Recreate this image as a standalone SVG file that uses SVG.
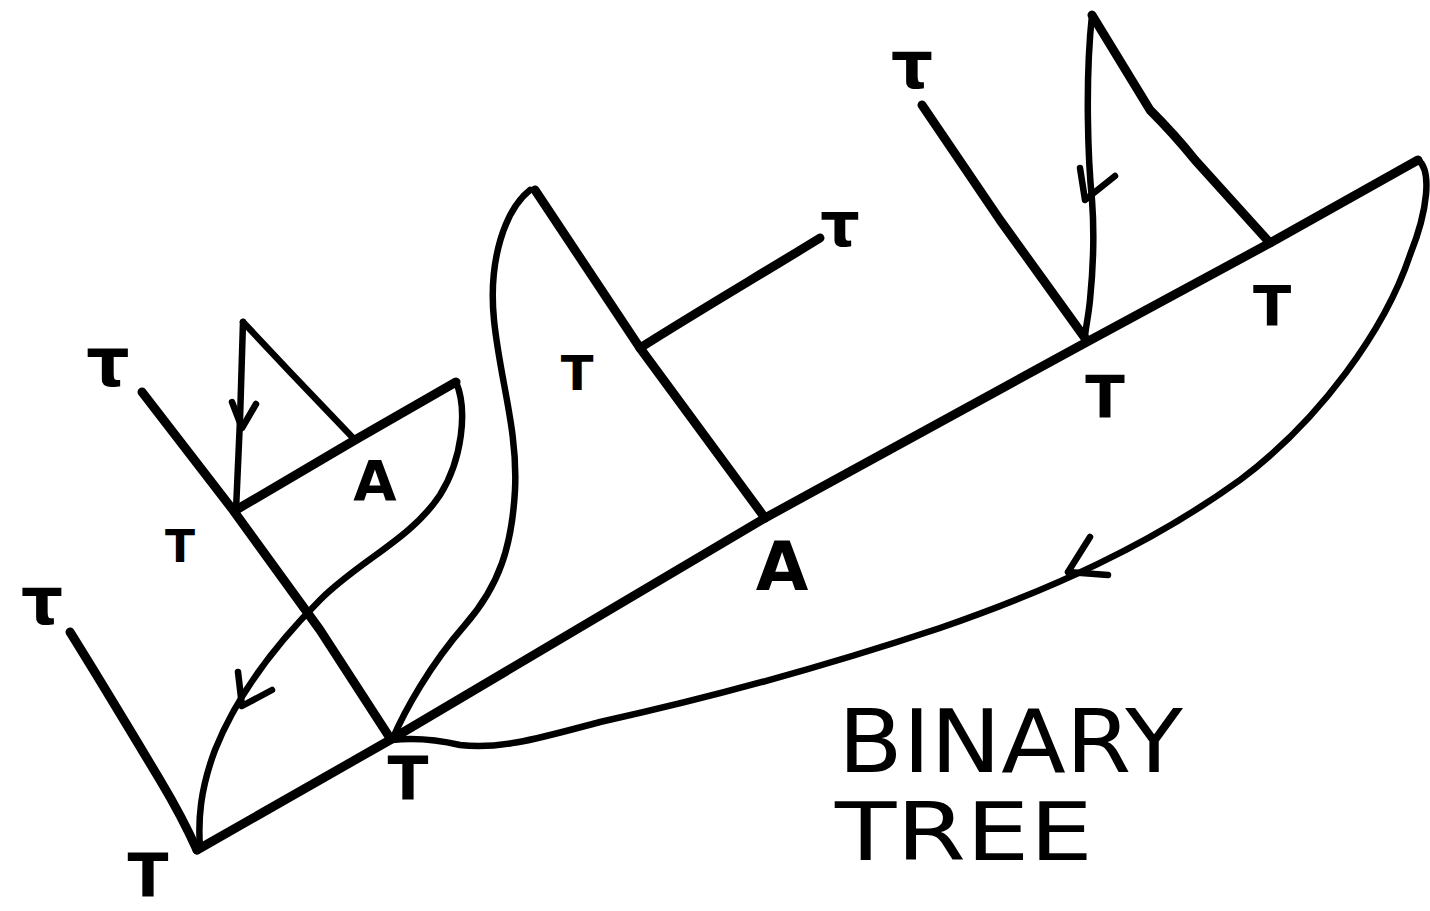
<svg xmlns="http://www.w3.org/2000/svg" width="1430" height="911" viewBox="0 0 1430 911">
<style>
.ln{fill:none;stroke:#000;stroke-width:9;stroke-linecap:round;stroke-linejoin:round}
.th{fill:none;stroke:#000;stroke-width:6.5;stroke-linecap:round;stroke-linejoin:round}
.lb{font-family:"DejaVu Sans",sans-serif;font-weight:bold;fill:#000}
.big{font-family:"DejaVu Sans",sans-serif;fill:#000;font-weight:normal}
</style>
<rect width="1430" height="911" fill="#fff"/>
<g id="connectors">
<path class="ln" d="M197,850 L390,740 L765,518 L1085,343 L1270,243 L1418,160"/>
<path class="th" d="M1418,160 C1432,170 1428,210 1410,255 C1385,330 1320,420 1240,480 C1150,545 1050,590 940,628 C820,668 700,700 600,722 C540,738 500,750 460,745 C430,738 410,738 392,740"/>
<path class="th" d="M1068,572 L1090,537 M1068,572 L1108,575"/>
<path class="ln" d="M142,392 L233,510 L320,630 L390,738"/>
<path class="th" d="M243,322 L240,420 L236,510"/>
<path class="th" d="M243,322 L290,372 L355,440"/>
<path class="th" d="M232,402 L242,428 L256,404"/>
<path class="ln" d="M236,510 L355,440 L456,382"/>
<path class="th" d="M456,382 C468,410 462,460 440,495 C410,540 360,560 320,600 C270,650 235,700 215,750 C200,790 198,820 200,848"/>
<path class="th" d="M238,672 L242,706 L272,690"/>
<path class="ln" d="M70,632 C100,680 130,730 160,780 C175,805 188,830 197,850"/>
<path class="th" d="M392,740 C405,710 430,665 465,625 C500,585 512,545 515,490 C518,430 500,380 494,320 C488,260 505,210 530,190"/>
<path class="ln" d="M535,190 L640,348 L765,518"/>
<path class="ln" d="M640,348 C700,310 760,275 820,238"/>
<path class="ln" d="M922,105 L1000,220 L1085,338"/>
<path class="th" d="M1092,15 C1085,80 1088,160 1092,200 C1095,240 1093,270 1090,300 C1088,320 1085,330 1085,338"/>
<path class="th" d="M1080,168 L1085,200 L1115,176"/>
<path class="ln" d="M1092,15 L1150,110 Q1175,135 1195,160 L1270,243"/>
</g>
<g id="labels">
<text class="lb" x="148" y="897" font-size="60" text-anchor="middle">T</text>
<text class="lb" x="408" y="800" font-size="60" text-anchor="middle">T</text>
<text class="lb" x="180" y="562" font-size="44" text-anchor="middle">T</text>
<text class="lb" x="577" y="390" font-size="48" text-anchor="middle">T</text>
<text class="lb" x="1105" y="418" font-size="58" text-anchor="middle">T</text>
<text class="lb" x="1272" y="325" font-size="56" text-anchor="middle">T</text>
<text class="lb" x="375" y="500" font-size="56" text-anchor="middle">A</text>
<text class="lb" x="782" y="590" font-size="68" text-anchor="middle">A</text>
<text class="lb" x="912" y="88" font-size="66" text-anchor="middle">τ</text>
<text class="lb" x="840" y="246" font-size="62" text-anchor="middle">τ</text>
<text class="lb" x="108" y="386" font-size="68" text-anchor="middle">τ</text>
<text class="lb" x="42" y="624" font-size="66" text-anchor="middle">τ</text>
<text class="big" x="838" y="772" font-size="88" textLength="345" lengthAdjust="spacingAndGlyphs">BINARY</text>
<text class="big" x="835" y="860" font-size="80" textLength="258" lengthAdjust="spacingAndGlyphs">TREE</text>
</g>
</svg>
